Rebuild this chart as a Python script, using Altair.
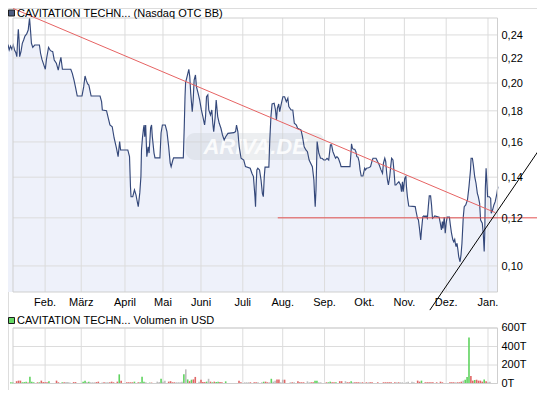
import altair as alt
import pandas as pd

# ---------------- data ----------------
# x = trading-day number counted from 3 Jan 2011, price in USD (log axis)
price_day = [0.0, 0.5, 1.1, 1.8, 2.5, 3.2, 3.9, 4.6, 5.1, 5.6, 5.9, 6.3, 6.6, 7.3, 8.0, 8.7, 9.4, 10.3, 11.1, 11.8,
             12.3, 12.8, 13.5, 14.5, 17.0, 17.6, 18.3, 19.3, 20.1, 20.7, 21.8, 22.8, 24.0, 24.8, 25.9, 26.9, 27.6, 28.3, 29.1, 33.5,
             34.3, 35.2, 36.0, 36.9, 39.4, 40.3, 41.0, 41.7, 42.4, 43.0, 44.2, 48.9, 49.7, 50.1, 52.3, 53.2, 54.1, 55.3, 56.3, 57.5,
             58.4, 59.2, 59.7, 63.5, 64.4, 64.9, 65.2, 66.1, 67.0, 67.8, 68.3, 69.0, 69.8, 70.4, 70.7, 71.2, 71.8, 72.1, 72.4, 72.9,
             73.5, 74.2, 74.7, 75.5, 76.0, 76.4, 77.3, 77.8, 80.4, 81.0, 81.7, 83.2, 84.1, 85.0, 85.8, 86.3, 87.2, 87.6, 92.7, 93.2,
             93.6, 93.9, 94.9, 95.6, 96.1, 96.6, 97.4, 97.9, 98.4, 99.1, 99.6, 100.5, 101.3, 102.2, 103.0, 103.9, 104.4, 104.9, 105.6, 106.1,
             107.0, 107.7, 108.2, 108.7, 109.4, 110.0, 110.8, 111.6, 112.5, 113.3, 114.2, 115.0, 116.2, 119.3, 120.2, 120.7, 121.4, 122.1, 123.1, 124.5,
             125.4, 127.9, 128.8, 129.6, 130.4, 130.7, 131.0, 131.4, 131.9, 132.8, 133.6, 134.3, 134.8, 135.3, 135.7, 137.7, 138.2, 138.8, 139.4, 140.5,
             141.2, 141.7, 142.2, 142.9, 143.4, 144.3, 145.1, 146.0, 146.9, 147.7, 148.2, 149.4, 150.3, 151.1, 152.2, 152.8, 154.6, 155.4, 156.3, 157.2,
             158.0, 158.9, 159.7, 160.6, 161.4, 161.8, 162.1, 162.5, 162.8, 163.1, 164.0, 164.9, 165.7, 166.6, 167.5, 168.3, 169.2, 170.1, 170.7, 171.4,
             172.1, 172.8, 173.5, 174.3, 175.2, 175.7, 180.4, 180.9, 181.2, 181.7, 182.2, 182.9, 183.5, 184.0, 184.6, 185.2, 185.7, 186.3, 187.2, 188.1,
             188.6, 189.1, 190.2, 191.2, 191.9, 192.5, 194.1, 194.9, 195.8, 196.7, 197.5, 198.0, 198.7, 199.2, 199.7, 200.1, 200.6, 201.3, 201.8, 202.3,
             203.0, 203.5, 204.1, 204.6, 205.3, 206.1, 207.0, 207.5, 208.0, 208.4, 208.7, 209.2, 209.8, 210.1, 210.6, 211.3, 214.7, 215.2, 215.9, 216.4,
             217.0, 217.6, 218.1, 218.7, 219.3, 219.9, 220.4, 221.1, 221.6, 222.1, 222.8, 223.3, 223.8, 224.5, 225.0, 227.3, 227.9, 228.5, 229.0, 229.3,
             230.0, 230.5, 231.0, 231.5, 232.7, 233.2, 233.8, 234.5, 235.0, 235.5, 235.8, 236.2, 236.7, 237.2, 237.6, 238.3, 238.8, 239.3, 240.0, 240.5,
             241.3, 242.2, 243.0, 243.8, 244.1, 244.8, 245.3, 246.0, 246.7, 247.4, 247.9, 248.6, 249.1, 250.0, 250.5, 251.0, 251.3, 251.6, 252.0, 252.3,
             252.8, 253.7, 254.4, 254.7, 255.4, 256.1, 256.8, 257.7, 258.2]
price_close = [0.2310, 0.2310, 0.2267, 0.2300, 0.2273, 0.2310, 0.2267, 0.2244, 0.2210, 0.2370, 0.2452, 0.2354, 0.2210, 0.2252, 0.2325, 0.2354, 0.2390, 0.2409, 0.2445, 0.2559,
               0.2445, 0.2325, 0.2290, 0.2310, 0.2310, 0.2239, 0.2189, 0.2142, 0.2107, 0.2189, 0.2290, 0.2261, 0.2252, 0.2183, 0.2156, 0.2101, 0.2156, 0.2205, 0.2107, 0.2107,
               0.2075, 0.2023, 0.1968, 0.1904, 0.1904, 0.1973, 0.2054, 0.2018, 0.1993, 0.1985, 0.1904, 0.1904, 0.1864, 0.1806, 0.1801, 0.1752, 0.1706, 0.1695, 0.1624, 0.1564,
               0.1513, 0.1602, 0.1552, 0.1552, 0.1513, 0.1351, 0.1300, 0.1300, 0.1334, 0.1309, 0.1284, 0.1252, 0.1319, 0.1403, 0.1552, 0.1624, 0.1687, 0.1706, 0.1632, 0.1706,
               0.1513, 0.1571, 0.1534, 0.1687, 0.1706, 0.1632, 0.1534, 0.1506, 0.1506, 0.1655, 0.1706, 0.1706, 0.1664, 0.1571, 0.1477, 0.1457, 0.1494, 0.1506, 0.1506, 0.1695,
               0.1899, 0.2003, 0.2062, 0.2107, 0.2049, 0.1924, 0.1794, 0.1876, 0.2023, 0.2062, 0.1973, 0.1924, 0.1876, 0.1806, 0.1761, 0.1706, 0.1761, 0.1899, 0.1912, 0.1806,
               0.1772, 0.1806, 0.1717, 0.1664, 0.1750, 0.1876, 0.1761, 0.1717, 0.1685, 0.1643, 0.1612, 0.1632, 0.1653, 0.1657, 0.1664, 0.1706, 0.1664, 0.1571, 0.1504, 0.1494,
               0.1457, 0.1448, 0.1421, 0.1403, 0.1300, 0.1252, 0.1351, 0.1439, 0.1448, 0.1439, 0.1385, 0.1317, 0.1300, 0.1403, 0.1454, 0.1454, 0.1612, 0.1761, 0.1847, 0.1852,
               0.1806, 0.1739, 0.1818, 0.1847, 0.1794, 0.1852, 0.1899, 0.1899, 0.1864, 0.1888, 0.1829, 0.1806, 0.1806, 0.1717, 0.1706, 0.1685, 0.1674, 0.1632, 0.1571, 0.1552,
               0.1542, 0.1494, 0.1476, 0.1457, 0.1385, 0.1300, 0.1252, 0.1334, 0.1457, 0.1602, 0.1533, 0.1504, 0.1504, 0.1494, 0.1494, 0.1504, 0.1494, 0.1582, 0.1582, 0.1542,
               0.1523, 0.1504, 0.1513, 0.1504, 0.1476, 0.1457, 0.1457, 0.1533, 0.1588, 0.1562, 0.1556, 0.1556, 0.1542, 0.1513, 0.1510, 0.1485, 0.1439, 0.1406, 0.1406, 0.1448,
               0.1439, 0.1448, 0.1451, 0.1457, 0.1485, 0.1504, 0.1504, 0.1485, 0.1466, 0.1439, 0.1421, 0.1476, 0.1504, 0.1485, 0.1421, 0.1385, 0.1359, 0.1403, 0.1457, 0.1504,
               0.1494, 0.1439, 0.1359, 0.1359, 0.1368, 0.1376, 0.1359, 0.1325, 0.1376, 0.1325, 0.1351, 0.1394, 0.1403, 0.1351, 0.1300, 0.1255, 0.1252, 0.1228, 0.1198, 0.1190,
               0.1150, 0.1104, 0.1153, 0.1205, 0.1209, 0.1203, 0.1209, 0.1198, 0.1252, 0.1304, 0.1304, 0.1260, 0.1198, 0.1203, 0.1209, 0.1203, 0.1176, 0.1146, 0.1183, 0.1153,
               0.1203, 0.1132, 0.1176, 0.1203, 0.1203, 0.1168, 0.1132, 0.1104, 0.1096, 0.1106, 0.1090, 0.1076, 0.1090, 0.1062, 0.1036, 0.1016, 0.1043, 0.1090, 0.1205, 0.1252,
               0.1260, 0.1284, 0.1351, 0.1439, 0.1504, 0.1504, 0.1466, 0.1403, 0.1368, 0.1317, 0.1300, 0.1268, 0.1190, 0.1176, 0.1132, 0.1056, 0.1132, 0.1342, 0.1448, 0.1394,
               0.1300, 0.1300, 0.1292, 0.1221, 0.1236, 0.1260, 0.1276, 0.1317, 0.1351]

month_day = [20, 39, 62, 82, 102, 124, 145, 167, 188, 209, 231, 253]
month_label = ["Feb.", "März", "April", "Mai", "Juni", "Juli", "Aug.", "Sep.", "Okt.", "Nov.", "Dez.", "Jan."]
price_ticks = [0.10, 0.12, 0.14, 0.16, 0.18, 0.20, 0.22, 0.24]

# volume in thousands USD, colour by day direction
vol_day = [2, 3, 5, 6, 7, 8, 9, 10, 11, 12, 13, 14, 16, 17, 18, 19, 20, 21, 22,
           26, 27, 29, 30, 31, 32, 33, 35, 36,
           40, 41, 42, 43, 44, 45, 46, 47, 48, 50, 51, 52, 53, 54, 55, 56, 58, 59, 60,
           63, 64, 65, 66, 67, 69, 70, 71, 72, 73, 75, 76, 79, 80, 81, 82, 83,
           85, 86, 87, 88, 89, 90, 91, 92, 93, 94, 95, 96, 97, 98, 99, 101, 102, 103, 104, 105, 106, 107, 108, 109, 110, 111, 112, 113, 115,
           122, 123, 125, 126, 127, 128, 130, 131, 132, 134, 135, 136, 137, 138, 139, 140, 141, 142, 143, 144, 145, 146,
           149, 150, 151, 153, 154, 155, 156, 158, 159, 160, 161, 162, 163, 164, 165,
           168, 169, 170, 171, 172, 173, 175, 176, 178, 179, 180, 181, 182, 183, 184, 185, 186, 187,
           189, 190, 191, 192, 195, 198, 199, 200, 201, 202, 204, 205, 206, 207, 208,
           210, 211, 213, 214, 216, 217, 218, 220, 221, 222, 223, 224, 226, 228, 229,
           233, 234, 235, 236, 237, 238, 239, 240, 241, 242, 243, 244, 245, 246, 247, 248, 249, 250, 251, 252, 253, 254]
vol_k = [13, 13, 25, 31, 31, 13, 15, 20, 10, 74, 20, 13, 13, 13, 31, 15, 13, 13, 25,
         31, 13, 13, 13, 15, 15, 10, 15, 15,
         20, 31, 15, 20, 13, 13, 13, 15, 20, 10, 13, 13, 13, 13, 20, 13, 20, 99, 31,
         13, 13, 13, 13, 20, 13, 13, 74, 20, 13, 10, 10, 20, 15, 51, 20, 31,
         20, 25, 13, 13, 13, 13, 13, 20, 99, 153, 44, 25, 41, 44, 71, 20, 41, 15, 15, 20, 51, 20, 13, 20, 15, 20, 15, 13, 23,
         31, 13, 13, 13, 13, 13, 13, 13, 13, 13, 20, 20, 13, 13, 51, 20, 31, 44, 44, 13, 41, 41,
         13, 13, 13, 23, 13, 13, 13, 23, 13, 13, 13, 31, 31, 13, 13,
         13, 13, 20, 13, 13, 13, 25, 25, 25, 13, 13, 23, 13, 13, 13, 13, 13, 13,
         13, 13, 13, 13, 13, 13, 13, 13, 13, 13, 13, 13, 13, 13, 13,
         13, 20, 20, 13, 31, 20, 31, 13, 13, 13, 13, 13, 13, 20, 13,
         13, 13, 13, 13, 13, 13, 20, 31, 41, 71, 498, 81, 31, 38, 41, 31, 31, 20, 44, 25, 13, 20]
vol_dir = ["up", "up", "down", "down", "down", "up", "up", "up", "down", "up", "up", "up", "down", "up", "down", "down", "down", "down", "up",
           "down", "down", "up", "down", "flat", "flat", "flat", "down", "down",
           "up", "up", "flat", "up", "flat", "flat", "flat", "down", "down", "flat", "down", "flat", "flat", "down", "down", "down", "down", "up", "down",
           "down", "down", "down", "down", "up", "down", "up", "up", "up", "flat", "up", "down", "flat", "flat", "up", "flat", "flat",
           "down", "down", "down", "down", "flat", "flat", "flat", "flat", "up", "flat", "up", "down", "up", "down", "down", "flat", "down", "down", "down", "up", "flat", "down", "up", "down", "up", "up", "down", "down", "up",
           "down", "down", "flat", "flat", "flat", "down", "down", "down", "flat", "flat", "up", "down", "down", "flat", "up", "flat", "flat", "down", "down", "flat", "flat", "down",
           "flat", "down", "flat", "down", "down", "down", "down", "flat", "flat", "down", "down", "up", "up", "flat", "flat",
           "down", "up", "up", "down", "down", "up", "down", "down", "flat", "down", "down", "up", "flat", "down", "down", "down", "flat", "down",
           "down", "flat", "down", "down", "down", "down", "down", "down", "down", "down", "down", "flat", "down", "flat", "flat",
           "flat", "flat", "flat", "flat", "down", "down", "up", "down", "down", "down", "down", "down", "down", "down", "down",
           "down", "down", "down", "flat", "down", "down", "down", "flat", "up", "up", "up", "down", "down", "up", "down", "down", "down", "down", "up", "down", "flat", "flat"]
vol_ticks = [0, 200, 400, 600]

# drawn trend lines (start / end)
resist_day = [3.2, 256.8]
resist_price = [0.2653, 0.1224]
support_day = [142.4, 280.0]
support_price = [0.12, 0.12]
uptrend_day = [222.4, 280.0]
uptrend_price = [0.0846, 0.1555]

# watermark band (in data units)
wm_day = [94, 167]
wm_price = [0.1494, 0.1655]

price_title = "CAVITATION TECHN... (Nasdaq OTC BB)"
vol_title = "CAVITATION TECHN... Volumen in USD"

X_DOMAIN = [3.1, 258.0]
Y_DOMAIN = [0.0906, 0.2559]
V_DOMAIN = [0, 600]
FONT = "Liberation Sans"
GRID = "#DCDCDC"

# ---------------- scales (whole picture drawn in one 529 x 382 view) ----------------
PX = alt.Scale(domain=X_DOMAIN, range=[0, 494.5], nice=False, zero=False)
PY = alt.Scale(type="log", domain=Y_DOMAIN, range=[284, 10], nice=False)
VY = alt.Scale(domain=V_DOMAIN, range=[375.5, 320], nice=False, zero=False)

def xf(field):
    return alt.X(field, type="quantitative", scale=PX, axis=None)

def yp(field):
    return alt.Y(field, type="quantitative", scale=PY, axis=None)

def yv(field):
    return alt.Y(field, type="quantitative", scale=VY, axis=None)

X0 = alt.XDatum(X_DOMAIN[0], type="quantitative", scale=PX, axis=None)
X1 = alt.X2Datum(X_DOMAIN[1])
X1a = alt.XDatum(X_DOMAIN[1], type="quantitative", scale=PX, axis=None)

# ---------------- tables ----------------
price_df = pd.DataFrame({"day": price_day, "close": price_close})
vol_df = pd.DataFrame({"day": vol_day, "vol": vol_k, "dir": vol_dir})
trend_df = pd.DataFrame({
    "day": resist_day + support_day + uptrend_day,
    "close": resist_price + support_price + uptrend_price,
    "line": ["resist"] * 2 + ["support"] * 2 + ["uptrend"] * 2,
})
month_df = pd.DataFrame({"day": month_day, "label": month_label})
ptick_df = pd.DataFrame({"close": price_ticks})
vtick_df = pd.DataFrame({"vol": vol_ticks})
wm_df = pd.DataFrame({"day": [wm_day[0]], "day2": [wm_day[1]], "close": [wm_price[0]], "close2": [wm_price[1]],
                      "dm": [(wm_day[0] + wm_day[1]) / 2], "cm": [0.1568], "txt": ["ARIVA.DE"]})
one = pd.DataFrame({"k": [0]})

# ---------------- price panel ----------------
area = alt.Chart(price_df).mark_area(color="#EEF1FA", clip=True).encode(
    x=xf("day"), y=yp("close"),
    y2=alt.Y2Datum(Y_DOMAIN[0]),
)
p_hgrid = alt.Chart(ptick_df).mark_rule(color=GRID, strokeWidth=1).encode(x=X0, x2=X1, y=yp("close"))
p_vgrid = alt.Chart(month_df).mark_rule(color=GRID, strokeWidth=1).encode(
    x=xf("day"),
    y=alt.YDatum(Y_DOMAIN[0], type="quantitative", scale=PY, axis=None),
    y2=alt.Y2Datum(Y_DOMAIN[1]),
)
band = alt.Chart(wm_df).mark_rect(cornerRadius=9, color="#C9CDD6", opacity=0.33).encode(
    x=xf("day"), x2="day2:Q", y=yp("close"), y2="close2:Q",
)
band_txt = alt.Chart(wm_df).mark_text(font=FONT, fontSize=22, fontStyle="italic", fontWeight="bold",
                                      color="#FFFFFF", opacity=0.85).encode(
    x=xf("dm"), y=yp("cm"), text="txt:N")
line = alt.Chart(price_df).mark_line(color="#34487A", strokeWidth=1.15, clip=True).encode(
    x=xf("day"), y=yp("close"))
p_border = alt.Chart(one).mark_rect(fillOpacity=0, stroke="#CFCFCF", strokeWidth=1).encode(
    x=X0, x2=X1,
    y=alt.YDatum(Y_DOMAIN[0], type="quantitative", scale=PY, axis=None),
    y2=alt.Y2Datum(Y_DOMAIN[1]),
)
trend = alt.Chart(trend_df).mark_line(strokeWidth=1).encode(
    x=xf("day"), y=yp("close"),
    detail="line:N",
    color=alt.Color("line:N", scale=alt.Scale(domain=["resist", "support", "uptrend"],
                                              range=["#E66363", "#E24F4F", "#000000"]), legend=None),
)
p_ylab = alt.Chart(ptick_df).transform_calculate(
    label="replace(format(datum.close, '.2f'), '.', ',')"
).mark_text(font=FONT, fontSize=11, align="left", baseline="middle", dx=4, dy=1, color="#000000").encode(
    x=X1a, y=yp("close"), text="label:N")
p_xlab = alt.Chart(month_df).mark_text(font=FONT, fontSize=11, align="center", baseline="middle", dy=11,
                                       color="#000000").encode(
    x=xf("day"),
    y=alt.YDatum(Y_DOMAIN[0], type="quantitative", scale=PY, axis=None),
    text="label:N")

ptitle_df = pd.DataFrame({"t": [price_title]})
p_icon = alt.Chart(ptitle_df).mark_square(size=36, fill="#4D5C80", fillOpacity=1, stroke="#1E1E1E",
                                          strokeWidth=1).encode(x=alt.value(3.5), y=alt.value(5))
p_text = alt.Chart(ptitle_df).mark_text(font=FONT, fontSize=11, align="left", baseline="middle",
                                        color="#000000").encode(x=alt.value(9), y=alt.value(5.6), text="t:N")

# ---------------- volume panel ----------------
v_hgrid = alt.Chart(vtick_df).mark_rule(color=GRID, strokeWidth=1).encode(x=X0, x2=X1, y=yv("vol"))
v_vgrid = alt.Chart(month_df).mark_rule(color=GRID, strokeWidth=1).encode(
    x=xf("day"),
    y=alt.YDatum(V_DOMAIN[0], type="quantitative", scale=VY, axis=None),
    y2=alt.Y2Datum(V_DOMAIN[1]),
)
v_border = alt.Chart(one).mark_rect(fillOpacity=0, stroke="#CFCFCF", strokeWidth=1).encode(
    x=X0, x2=X1,
    y=alt.YDatum(V_DOMAIN[0], type="quantitative", scale=VY, axis=None),
    y2=alt.Y2Datum(V_DOMAIN[1]),
)
bars = alt.Chart(vol_df).mark_bar(size=1.6).encode(
    x=xf("day"), y=yv("vol"),
    y2=alt.Y2Datum(0),
    color=alt.Color("dir:N", scale=alt.Scale(domain=["up", "down", "flat"],
                                             range=["#5FD35F", "#E06666", "#BDBDBD"]), legend=None),
)
v_ylab = alt.Chart(vtick_df).transform_calculate(label="datum.vol + 'T'").mark_text(
    font=FONT, fontSize=11, align="left", baseline="middle", dx=4, dy=0, color="#000000").encode(
    x=X1a, y=yv("vol"), text="label:N")

vtitle_df = pd.DataFrame({"t": [vol_title]})
v_icon = alt.Chart(vtitle_df).mark_square(size=36, fill="#66D966", fillOpacity=1, stroke="#1E1E1E",
                                          strokeWidth=1).encode(x=alt.value(3.5), y=alt.value(312.5))
v_text = alt.Chart(vtitle_df).mark_text(font=FONT, fontSize=11, align="left", baseline="middle",
                                        color="#000000").encode(x=alt.value(9), y=alt.value(313), text="t:N")

chart = alt.layer(
    area, p_hgrid, p_vgrid, band, band_txt, line, p_border, trend, p_ylab, p_xlab, p_icon, p_text,
    v_hgrid, v_vgrid, bars, v_border, v_ylab, v_icon, v_text,
).resolve_scale(
    y="independent", color="independent"
).properties(
    width=529, height=382,
    autosize=alt.AutoSizeParams(type="none"),
    padding=0,
).configure_view(stroke=None).configure(background="#FFFFFF")

chart.save("out.html", embed_options={"renderer": "svg", "actions": False})
